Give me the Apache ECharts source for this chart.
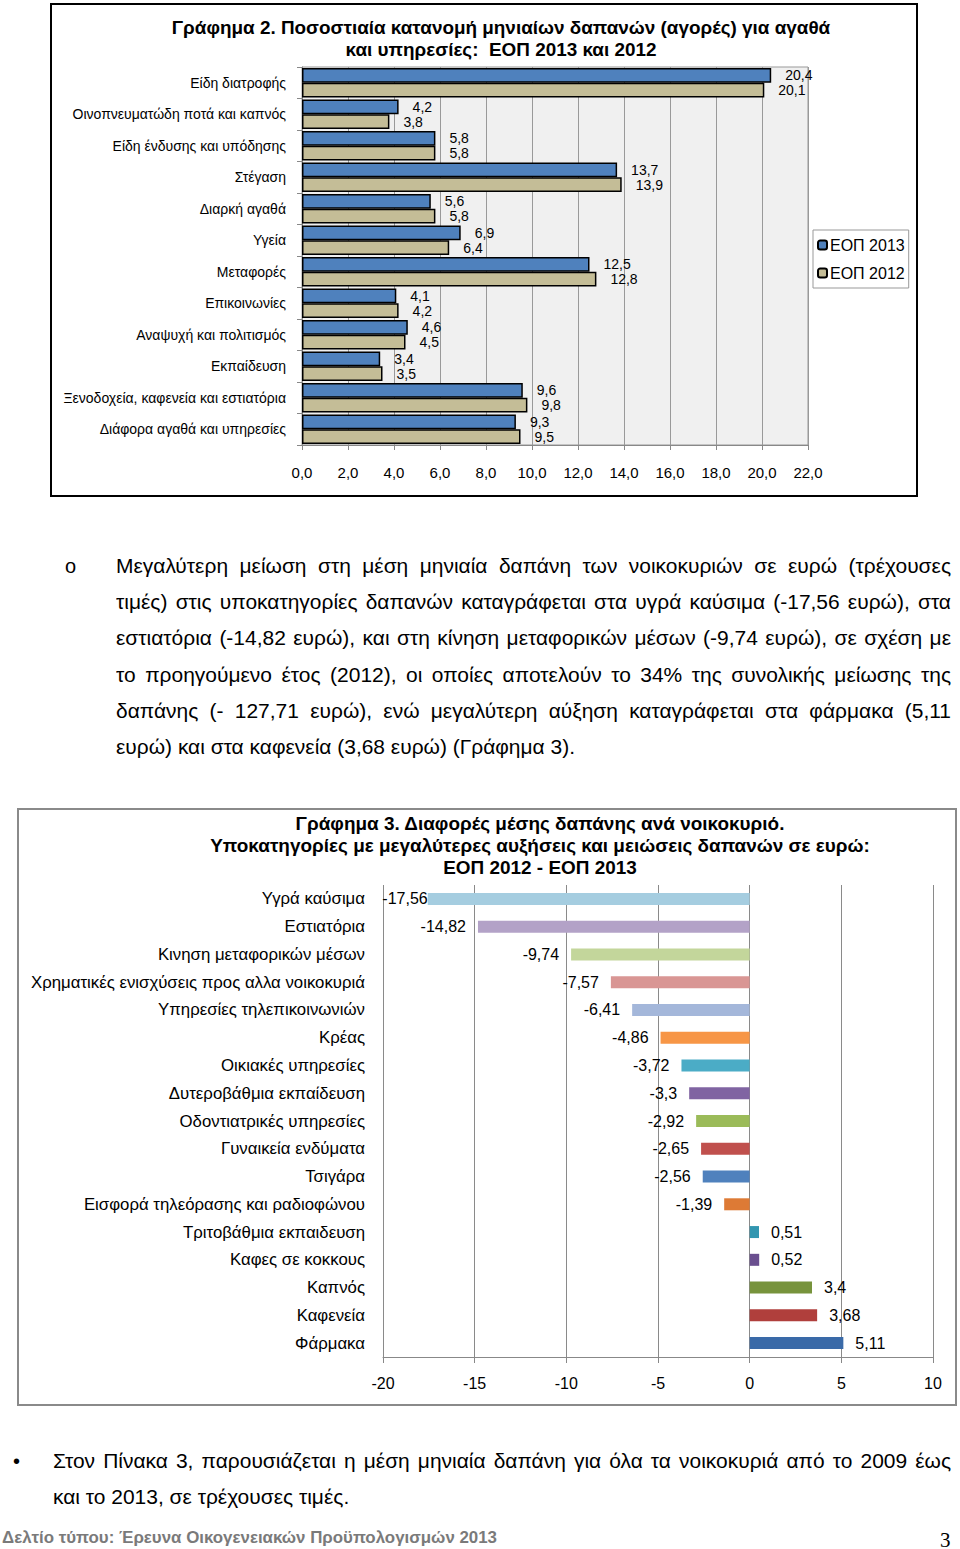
<!DOCTYPE html>
<html>
<head>
<meta charset="utf-8">
<script src="https://cdn.jsdelivr.net/npm/echarts@6/dist/echarts.min.js"></script>
<style>
  html, body { margin:0; padding:0; background:#fff; }
  body { width:960px; height:1549px; position:relative; overflow:hidden; font-family:'Liberation Sans',Arial,sans-serif; }
  #box1 { position:absolute; left:50px; top:3px; width:868px; height:494px; border:2px solid #000; box-sizing:border-box; }
  #box2 { position:absolute; left:17px; top:808px; width:940px; height:598px; border:2px solid #8a8a8a; box-sizing:border-box; }
  #c1, #c2 { position:absolute; left:0; top:0; width:100%; height:100%; }
  .para { position:absolute; font-size:20px; line-height:36.2px; text-align:justify; color:#000; transform-origin:0 0; }
  .fullline { display:block; text-align:justify; text-align-last:justify; }
  .bul { position:absolute; font-size:20px; line-height:36.2px; color:#000; }
  #foot { position:absolute; left:2px; top:1528px; font-size:17px; font-weight:bold; color:#7a7a7a; white-space:nowrap; transform-origin:0 0; line-height:20px; }
  #pg { position:absolute; left:940px; top:1528px; font-size:21px; font-family:'Liberation Serif','DejaVu Serif',serif; color:#000; }
</style>
</head>
<body>
<div id="box1"><div id="c1"></div></div>

<div class="bul" style="left:65px; top:548px;">o</div>
<div id="p1" class="para" style="left:116px; top:548px;">Μεγαλύτερη μείωση στη μέση μηνιαία δαπάνη των νοικοκυριών σε ευρώ (τρέχουσες τιμές) στις υποκατηγορίες δαπανών καταγράφεται στα υγρά καύσιμα (-17,56 ευρώ), στα εστιατόρια (-14,82 ευρώ), και στη κίνηση μεταφορικών μέσων (-9,74 ευρώ), σε σχέση με το προηγούμενο έτος (2012), οι οποίες αποτελούν το 34% της συνολικής μείωσης της δαπάνης (- 127,71 ευρώ), ενώ μεγαλύτερη αύξηση καταγράφεται στα φάρμακα (5,11 ευρώ) και στα καφενεία (3,68 ευρώ) (Γράφημα 3).</div>

<div id="box2"><div id="c2"></div></div>

<div class="bul" style="left:13px; top:1443px;">•</div>
<div id="p2" class="para" style="left:53px; top:1443px;"><span class="fullline">Στον Πίνακα 3, παρουσιάζεται η μέση μηνιαία δαπάνη για όλα τα νοικοκυριά από το 2009 έως</span> <span>και το 2013, σε τρέχουσες τιμές.</span></div>

<div id="foot">Δελτίο τύπου: Έρευνα Οικογενειακών Προϋπολογισμών 2013</div>
<div id="pg">3</div>

<script>
// ---------- Chart 1 data ----------
const categories1 = ['Είδη διατροφής','Οινοπνευματώδη ποτά και καπνός','Είδη ένδυσης και υπόδησης','Στέγαση','Διαρκή αγαθά','Υγεία','Μεταφορές','Επικοινωνίες','Αναψυχή και πολιτισμός','Εκπαίδευση','Ξενοδοχεία, καφενεία και εστιατόρια','Διάφορα αγαθά και υπηρεσίες'];
const eop2013 = [20.4, 4.2, 5.8, 13.7, 5.6, 6.9, 12.5, 4.1, 4.6, 3.4, 9.6, 9.3];
const eop2012 = [20.1, 3.8, 5.8, 13.9, 5.8, 6.4, 12.8, 4.2, 4.5, 3.5, 9.8, 9.5];
const seriesNames1 = ['ΕΟΠ 2013', 'ΕΟΠ 2012'];
const title1 = ['Γράφημα 2. Ποσοστιαία κατανομή μηνιαίων δαπανών (αγορές) για αγαθά', 'και υπηρεσίες:  ΕΟΠ 2013 και 2012'];

// ---------- Chart 2 data ----------
const categories2 = ['Υγρά καύσιμα','Εστιατόρια','Κινηση μεταφορικών μέσων','Χρηματικές ενισχύσεις προς αλλα νοικοκυριά','Υπηρεσίες τηλεπικοινωνιών','Κρέας','Οικιακές υπηρεσίες','Δυτεροβάθμια εκπαίδευση','Οδοντιατρικές υπηρεσίες','Γυναικεία ενδύματα','Τσιγάρα','Εισφορά τηλεόρασης και ραδιοφώνου','Τριτοβάθμια εκπαιδευση','Καφες σε κοκκους','Καπνός','Καφενεία','Φάρμακα'];
const differences = [-17.56, -14.82, -9.74, -7.57, -6.41, -4.86, -3.72, -3.3, -2.92, -2.65, -2.56, -1.39, 0.51, 0.52, 3.4, 3.68, 5.11];
const title2 = ['Γράφημα 3. Διαφορές μέσης δαπάνης ανά νοικοκυριό.', 'Υποκατηγορίες με μεγαλύτερες αυξήσεις και μειώσεις δαπανών σε ευρώ:', 'ΕΟΠ 2012 - ΕΟΠ 2013'];

const SANS = "'Liberation Sans',Arial,sans-serif";
const comma = v => String(v).replace('.', ',');

// text measuring to emulate a condensed (narrow) face by horizontal scaling
const mctx = document.createElement('canvas').getContext('2d');
function textWidth(t, font){ mctx.font = font; return mctx.measureText(t).width; }

const pFont = "20px 'Liberation Sans'";
const pScale = 459 / textWidth('ευρώ) και στα καφενεία (3,68 ευρώ) (Γράφημα 3).', pFont);
const p1 = document.getElementById('p1');
p1.style.width = (835 / pScale) + 'px';
p1.style.transform = 'scaleX(' + pScale + ')';
const p2 = document.getElementById('p2');
p2.style.width = (898 / pScale) + 'px';
p2.style.transform = 'scaleX(' + pScale + ')';
const foot = document.getElementById('foot');
const fScale = 495 / textWidth(foot.textContent, "bold 17px 'Liberation Sans'");
foot.style.transform = 'scaleX(' + fScale + ')';

const tFont = "bold 19px 'Liberation Sans'";
const t1Scale = 659 / textWidth(title1[0], tFont);
const t2Scale = 660 / textWidth(title2[1], tFont);

// ---------- Chart 1 ----------
const c1 = echarts.init(document.getElementById('c1'), null, {renderer:'svg'});
c1.setOption({
  animation:false,
  textStyle:{fontFamily:SANS},
  graphic: title1.map((t,i)=>({
    type:'text', x:449, y:22 + i*22, scaleX:t1Scale,
    style:{text:t, textAlign:'center', textVerticalAlign:'middle', font:tFont, fill:'#000'}
  })),
  grid:{left:250, right:108, top:62, bottom:50, show:true, backgroundColor:'#f0f0f0', borderColor:'#999', borderWidth:1},
  legend:{
    orient:'vertical', left:761, top:225, padding:[6,4,6,4], itemGap:10,
    itemWidth:9, itemHeight:9, borderColor:'#999', borderWidth:1, backgroundColor:'#fff',
    textStyle:{fontSize:16, color:'#000', fontFamily:SANS, lineHeight:18, padding:[0,0,0,-2]},
    data:seriesNames1
  },
  xAxis:{
    type:'value', min:0, max:22, interval:2,
    axisLine:{show:true, lineStyle:{color:'#888'}},
    axisTick:{show:true, length:5, lineStyle:{color:'#888'}},
    axisLabel:{formatter:v=>v.toFixed(1).replace('.',','), fontSize:15, color:'#000', margin:20, fontFamily:SANS},
    splitLine:{show:true, lineStyle:{color:'#999', width:1}}
  },
  yAxis:{
    type:'category', data:categories1, inverse:true,
    axisLine:{show:true, lineStyle:{color:'#888'}},
    axisTick:{show:true, length:5, lineStyle:{color:'#888'}},
    axisLabel:{fontSize:14, color:'#000', margin:16, fontFamily:SANS}
  },
  series:[
    {name:seriesNames1[0], type:'bar', data:eop2013, barGap:'0%', barCategoryGap:'6%',
     itemStyle:{color:'#4f81bd', borderColor:'#000', borderWidth:1.5},
     label:{show:true, position:'right', distance:14, fontSize:14, color:'#000', fontFamily:SANS, formatter:p=>comma(p.value)}},
    {name:seriesNames1[1], type:'bar', data:eop2012, barGap:'0%', barCategoryGap:'6%',
     itemStyle:{color:'#c4bd97', borderColor:'#000', borderWidth:1.5},
     label:{show:true, position:'right', distance:14, fontSize:14, color:'#000', fontFamily:SANS, formatter:p=>comma(p.value)}}
  ]
});

// ---------- Chart 2 ----------
const colors2 = ['#a5cde0','#b3a2c7','#c3d69b','#d99694','#a4b7da','#f79646','#4bacc6','#8064a2','#9bbb59','#c0504d','#4f81bd','#dd7a35','#3296b0','#6a4f8f','#77933c','#b03f3c','#3a6aa8'];
const c2 = echarts.init(document.getElementById('c2'), null, {renderer:'svg'});
c2.setOption({
  animation:false,
  textStyle:{fontFamily:SANS},
  graphic: title2.map((t,i)=>({
    type:'text', x:521, y:13 + i*22, scaleX:t2Scale,
    style:{text:t, textAlign:'center', textVerticalAlign:'middle', font:tFont, fill:'#000'}
  })),
  grid:{left:364, right:22, top:75, bottom:47},
  xAxis:{
    type:'value', min:-20, max:10, interval:5,
    axisLine:{show:true, onZero:false, lineStyle:{color:'#888'}},
    axisTick:{show:true, length:6, lineStyle:{color:'#888'}},
    axisLabel:{fontSize:16, color:'#000', margin:18, fontFamily:SANS},
    splitLine:{show:true, lineStyle:{color:'#8a8a8a', width:1}}
  },
  yAxis:{
    type:'category', data:categories2, inverse:true,
    axisLine:{show:false}, axisTick:{show:false},
    axisLabel:{fontSize:16.8, color:'#000', margin:18, fontFamily:SANS}
  },
  series:[{
    type:'bar', barWidth:12,
    data:differences.map((v,i)=>({
      value:v,
      itemStyle:{color:colors2[i]},
      label:{position: v<0 ? 'left' : 'right', distance: v < -17 ? 0 : 12}
    })),
    label:{show:true, fontSize:16, color:'#000', fontFamily:SANS, formatter:p=>comma(p.value)}
  }]
});
</script>
</body>
</html>
